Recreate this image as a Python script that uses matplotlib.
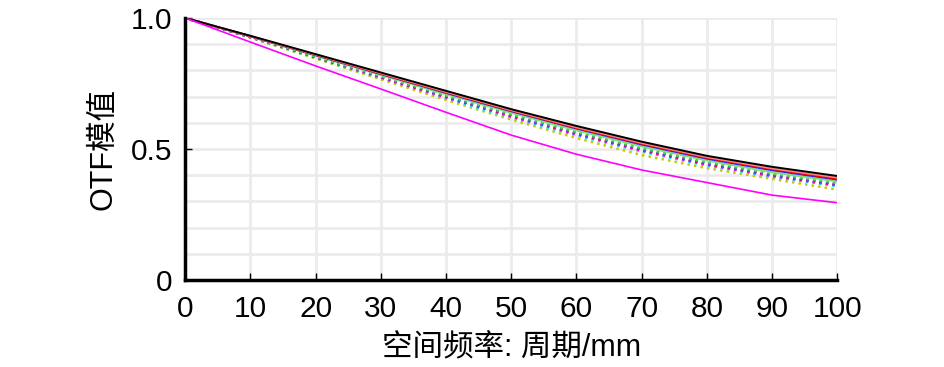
import numpy as np
import matplotlib
matplotlib.use('Agg')
import matplotlib.pyplot as plt
from matplotlib import rcParams

rcParams['font.family'] = ['Liberation Sans', 'Noto Sans CJK SC']

# spatial frequency, cycles/mm
freq = [0, 10, 20, 30, 40, 50, 60, 70, 80, 90, 100]

# solid curves
black_s = [1.0, 0.932, 0.862, 0.792, 0.722, 0.652, 0.588, 0.528, 0.474, 0.432, 0.397]
salmon_s = [1.0, 0.931, 0.860, 0.789, 0.718, 0.648, 0.583, 0.523, 0.469, 0.426, 0.391]
red_s = [1.0, 0.930, 0.859, 0.787, 0.716, 0.646, 0.580, 0.520, 0.466, 0.423, 0.386]
blue_s = [1.0, 0.930, 0.858, 0.786, 0.714, 0.644, 0.578, 0.517, 0.463, 0.419, 0.383]
green_s = [1.0, 0.929, 0.856, 0.782, 0.709, 0.638, 0.571, 0.510, 0.456, 0.411, 0.376]
magenta_s = [1.0, 0.908, 0.817, 0.729, 0.640, 0.553, 0.480, 0.420, 0.372, 0.324, 0.295]

# dotted curves
green_d = [1.0, 0.928, 0.853, 0.778, 0.704, 0.632, 0.565, 0.503, 0.450, 0.406, 0.370]
blue_d = [1.0, 0.928, 0.852, 0.776, 0.701, 0.629, 0.561, 0.499, 0.446, 0.402, 0.366]
red_d = [1.0, 0.927, 0.851, 0.775, 0.699, 0.627, 0.559, 0.497, 0.443, 0.400, 0.364]
magenta_d = [1.0, 0.927, 0.850, 0.773, 0.697, 0.624, 0.556, 0.494, 0.440, 0.397, 0.361]
cyan_d = [1.0, 0.926, 0.848, 0.770, 0.693, 0.620, 0.552, 0.490, 0.437, 0.394, 0.358]
yellow_d = [1.0, 0.925, 0.845, 0.766, 0.687, 0.612, 0.542, 0.477, 0.427, 0.386, 0.345]

fig, ax = plt.subplots(figsize=(9.45, 3.67), dpi=100)
fig.subplots_adjust(left=0.196, right=0.886, top=0.951, bottom=0.237)

ax.plot(freq, yellow_d, color='#c8c800', lw=1.8, ls=':')
ax.plot(freq, cyan_d, color='#00e5ff', lw=1.8, ls=':')
ax.plot(freq, magenta_d, color='#ff00ff', lw=1.8, ls=':')
ax.plot(freq, red_d, color='#ff0033', lw=1.8, ls=':')
ax.plot(freq, blue_d, color='#3050ff', lw=1.8, ls=':')
ax.plot(freq, green_d, color='#40d040', lw=1.8, ls=':')
ax.plot(freq, green_s, color='#80e080', lw=1.4)
ax.plot(freq, blue_s, color='#2020ff', lw=1.4)
ax.plot(freq, red_s, color='#ff0000', lw=1.4)
ax.plot(freq, salmon_s, color='#ff8080', lw=1.4)
ax.plot(freq, black_s, color='black', lw=1.4)
ax.plot(freq, magenta_s, color='#ff00ff', lw=1.2)

ax.set_xlim(0, 100)
ax.set_ylim(0, 1.0)
ax.set_xticks(np.arange(0, 101, 10))
ax.set_yticks([0, 0.5, 1.0])
ax.set_yticklabels(['0', '0.5', '1.0'])
ax.set_yticks(np.arange(0, 1.01, 0.1), minor=True)
ax.grid(True, which='both', color='#ebebeb', lw=2)
ax.set_axisbelow(True)

for s in ['top', 'right']:
    ax.spines[s].set_visible(False)
ax.spines['left'].set_linewidth(2.5)
ax.spines['bottom'].set_linewidth(2.5)
ax.tick_params(which='major', direction='in', length=5, width=1, labelsize=21.5)
ax.tick_params(axis='y', which='major', pad=9)
ax.tick_params(axis='x', which='major', pad=11)
ax.tick_params(which='minor', length=0)

ax.set_xlabel('空间频率: 周期/mm', fontsize=22, labelpad=7)
ax.set_ylabel('OTF模值', fontsize=22, labelpad=9)

fig.savefig('out.png', dpi=100)
